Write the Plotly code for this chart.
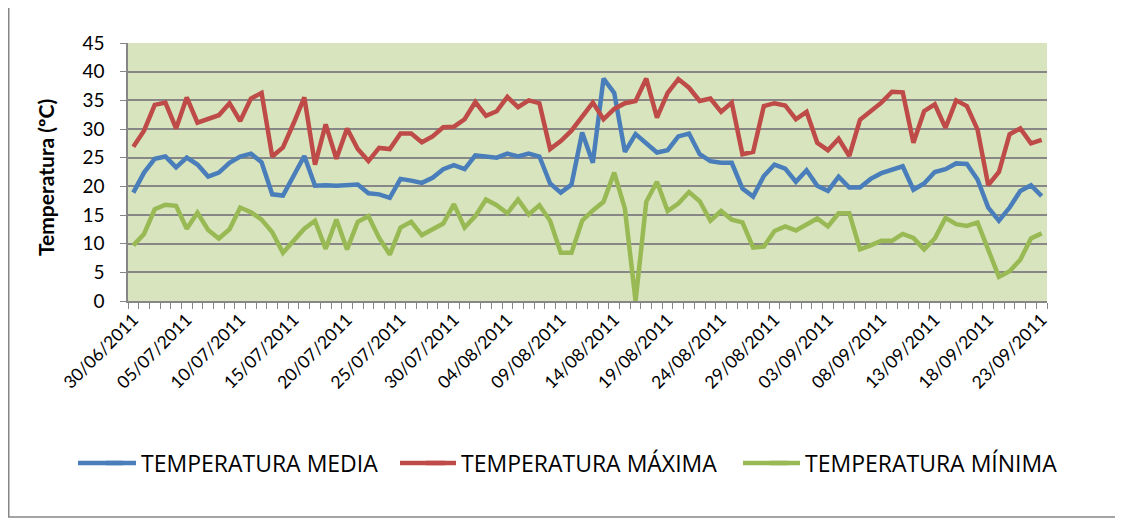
import pandas as pd
import plotly.graph_objects as go

# daily temperatures, 30/06/2011 - 23/09/2011
fechas = pd.date_range("2011-06-30", "2011-09-23", freq="D")

t_media = [18.9, 22.4, 24.8, 25.2, 23.3, 25.0, 23.8, 21.7, 22.4, 24.1, 25.2, 25.7, 24.2, 18.6, 18.4,
           21.8, 25.3, 20.1, 20.2, 20.1, 20.2, 20.3, 18.8, 18.6, 18.0, 21.3, 21.0, 20.6, 21.5, 23.0,
           23.7, 23.0, 25.4, 25.2, 25.0, 25.7, 25.2, 25.7, 25.2, 20.5, 18.9, 20.3, 29.4, 24.1,
           38.8, 36.3, 26.0, 29.1, 27.5, 25.9, 26.3, 28.7, 29.2, 25.6, 24.4, 24.1, 24.1, 19.6,
           18.2, 21.8, 23.8, 23.1, 20.8, 22.8, 20.1, 19.2, 21.7, 19.8, 19.8, 21.3, 22.3, 22.8,
           23.5, 19.4, 20.5, 22.5, 23.0, 24.0, 23.9, 21.2, 16.3, 14.0, 16.3, 19.2, 20.2, 18.3]

t_maxima = [26.9, 29.7, 34.2, 34.6, 30.1, 35.5, 31.1, 31.7, 32.4, 34.5, 31.4, 35.3, 36.3, 25.2, 26.8,
            31.0, 35.5, 23.8, 30.8, 24.8, 30.1, 26.5, 24.4, 26.7, 26.5, 29.2, 29.2, 27.7, 28.7, 30.3,
            30.4, 31.7, 34.7, 32.3, 33.1, 35.6, 33.8, 35.0, 34.5, 26.5, 27.9, 29.7, 32.3, 34.6,
            31.7, 33.5, 34.5, 34.9, 38.8, 32.0, 36.3, 38.7, 37.2, 34.9, 35.3, 33.0, 34.6, 25.6,
            26.0, 34.0, 34.5, 34.1, 31.7, 33.0, 27.6, 26.3, 28.3, 25.3, 31.6, 33.1, 34.6, 36.5,
            36.4, 27.6, 33.1, 34.3, 30.2, 35.0, 34.0, 29.9, 20.2, 22.5, 29.1, 30.1, 27.5, 28.1]

t_minima = [9.7, 11.7, 16.0, 16.8, 16.6, 12.6, 15.4, 12.4, 10.9, 12.5, 16.3, 15.5, 14.2, 12.0, 8.4,
            10.5, 12.6, 14.0, 9.1, 14.2, 9.0, 13.8, 14.8, 11.0, 8.1, 12.8, 13.8, 11.5, 12.4, 13.5,
            16.9, 12.8, 14.8, 17.7, 16.7, 15.3, 17.7, 15.1, 16.7, 14.0, 8.4, 8.4, 14.0, 15.8,
            17.3, 22.4, 16.1, 0.0, 17.3, 20.8, 15.7, 17.0, 19.0, 17.4, 14.0, 15.7, 14.2, 13.7,
            9.3, 9.5, 12.2, 13.0, 12.3, 13.4, 14.4, 13.0, 15.3, 15.3, 9.0, 9.7, 10.5, 10.5,
            11.7, 11.0, 9.0, 10.9, 14.5, 13.4, 13.1, 13.7, 9.0, 4.2, 5.2, 7.2, 10.9, 11.8]

series = [("TEMPERATURA MEDIA", t_media, "#4A7EBB", 275),
          ("TEMPERATURA MÁXIMA", t_maxima, "#BE4B48", 299),
          ("TEMPERATURA MÍNIMA", t_minima, "#98B954", 265)]

fig = go.Figure()
for nombre, vals, color, lw in series:
    fig.add_trace(go.Scatter(x=fechas, y=vals, name=nombre, mode="lines",
                             legendwidth=lw,
                             line=dict(color=color, width=4.5)))

font = "Lato, 'Open Sans', sans-serif"
# page body has an 8px margin, so the figure sits at (8, 8) in the window
W, H = 1123, 520
L, T = 120, 35
pw, ph = 919, 258
R, B = W - L - pw, H - T - ph


def px_x(x):  # window pixel -> paper x
    return (x - 8 - L) / pw


def px_y(y):  # window pixel -> paper y
    return (T + ph - (y - 8)) / ph


half_day = pd.Timedelta(hours=12)
fig.update_layout(
    width=W, height=H,
    margin=dict(l=L, r=R, t=T, b=B, autoexpand=False),
    paper_bgcolor="white",
    plot_bgcolor="#D7E4BD",
    font=dict(family=font, size=18, color="black"),
    showlegend=True,
    legend=dict(orientation="h", x=px_x(101), y=px_y(463),
                xanchor="left", yanchor="middle",
                bgcolor="rgba(0,0,0,0)",
                font=dict(size=23, family="'Open Sans', sans-serif"),
                tracegroupgap=0),
    xaxis=dict(
        range=[fechas[0] - half_day, fechas[-1] + half_day],
        tickvals=list(fechas[::5]),
        tickformat="%d/%m/%Y",
        tickangle=-45,
        showgrid=False,
        ticks="",
        automargin=False,
        showline=True, linecolor="#868686", linewidth=1.5,
        minor=dict(ticks="outside", ticklen=6, tickcolor="#868686",
                   dtick=86400000, tick0=fechas[0] - half_day, showgrid=False),
        tickfont=dict(size=17.5),
    ),
    yaxis=dict(
        range=[0, 45], dtick=5,
        showgrid=True, gridcolor="#878787", gridwidth=1.5,
        showline=True, linecolor="#868686", linewidth=1.5,
        ticks="outside", ticklen=6, tickcolor="#868686",
        ticklabelstandoff=12,
        zeroline=False,
        automargin=False,
        tickfont=dict(size=19),
    ),
)

fig.add_annotation(text="<b>Temperatura (ºC)</b>", textangle=-90,
                   xref="paper", yref="paper", x=px_x(45), y=px_y(178),
                   xanchor="center", yanchor="middle",
                   showarrow=False, font=dict(size=21))

# the legend's line swatches are longer in the original: extend them to the left
for start, (_, _, color, _) in zip([78, 400, 743], series):
    fig.add_shape(type="line", xref="paper", yref="paper",
                  x0=px_x(start), x1=px_x(start + 45), y0=px_y(463), y1=px_y(463),
                  line=dict(color=color, width=4.5))

# outer chart frame (top edge lies above the visible window)
fig.add_shape(type="rect", xref="paper", yref="paper",
              x0=px_x(8.75), x1=px_x(1116),
              y0=px_y(517), y1=px_y(-10),
              line=dict(color="#868686", width=1.5), fillcolor="rgba(0,0,0,0)",
              layer="below")

fig.write_html("out.html")
